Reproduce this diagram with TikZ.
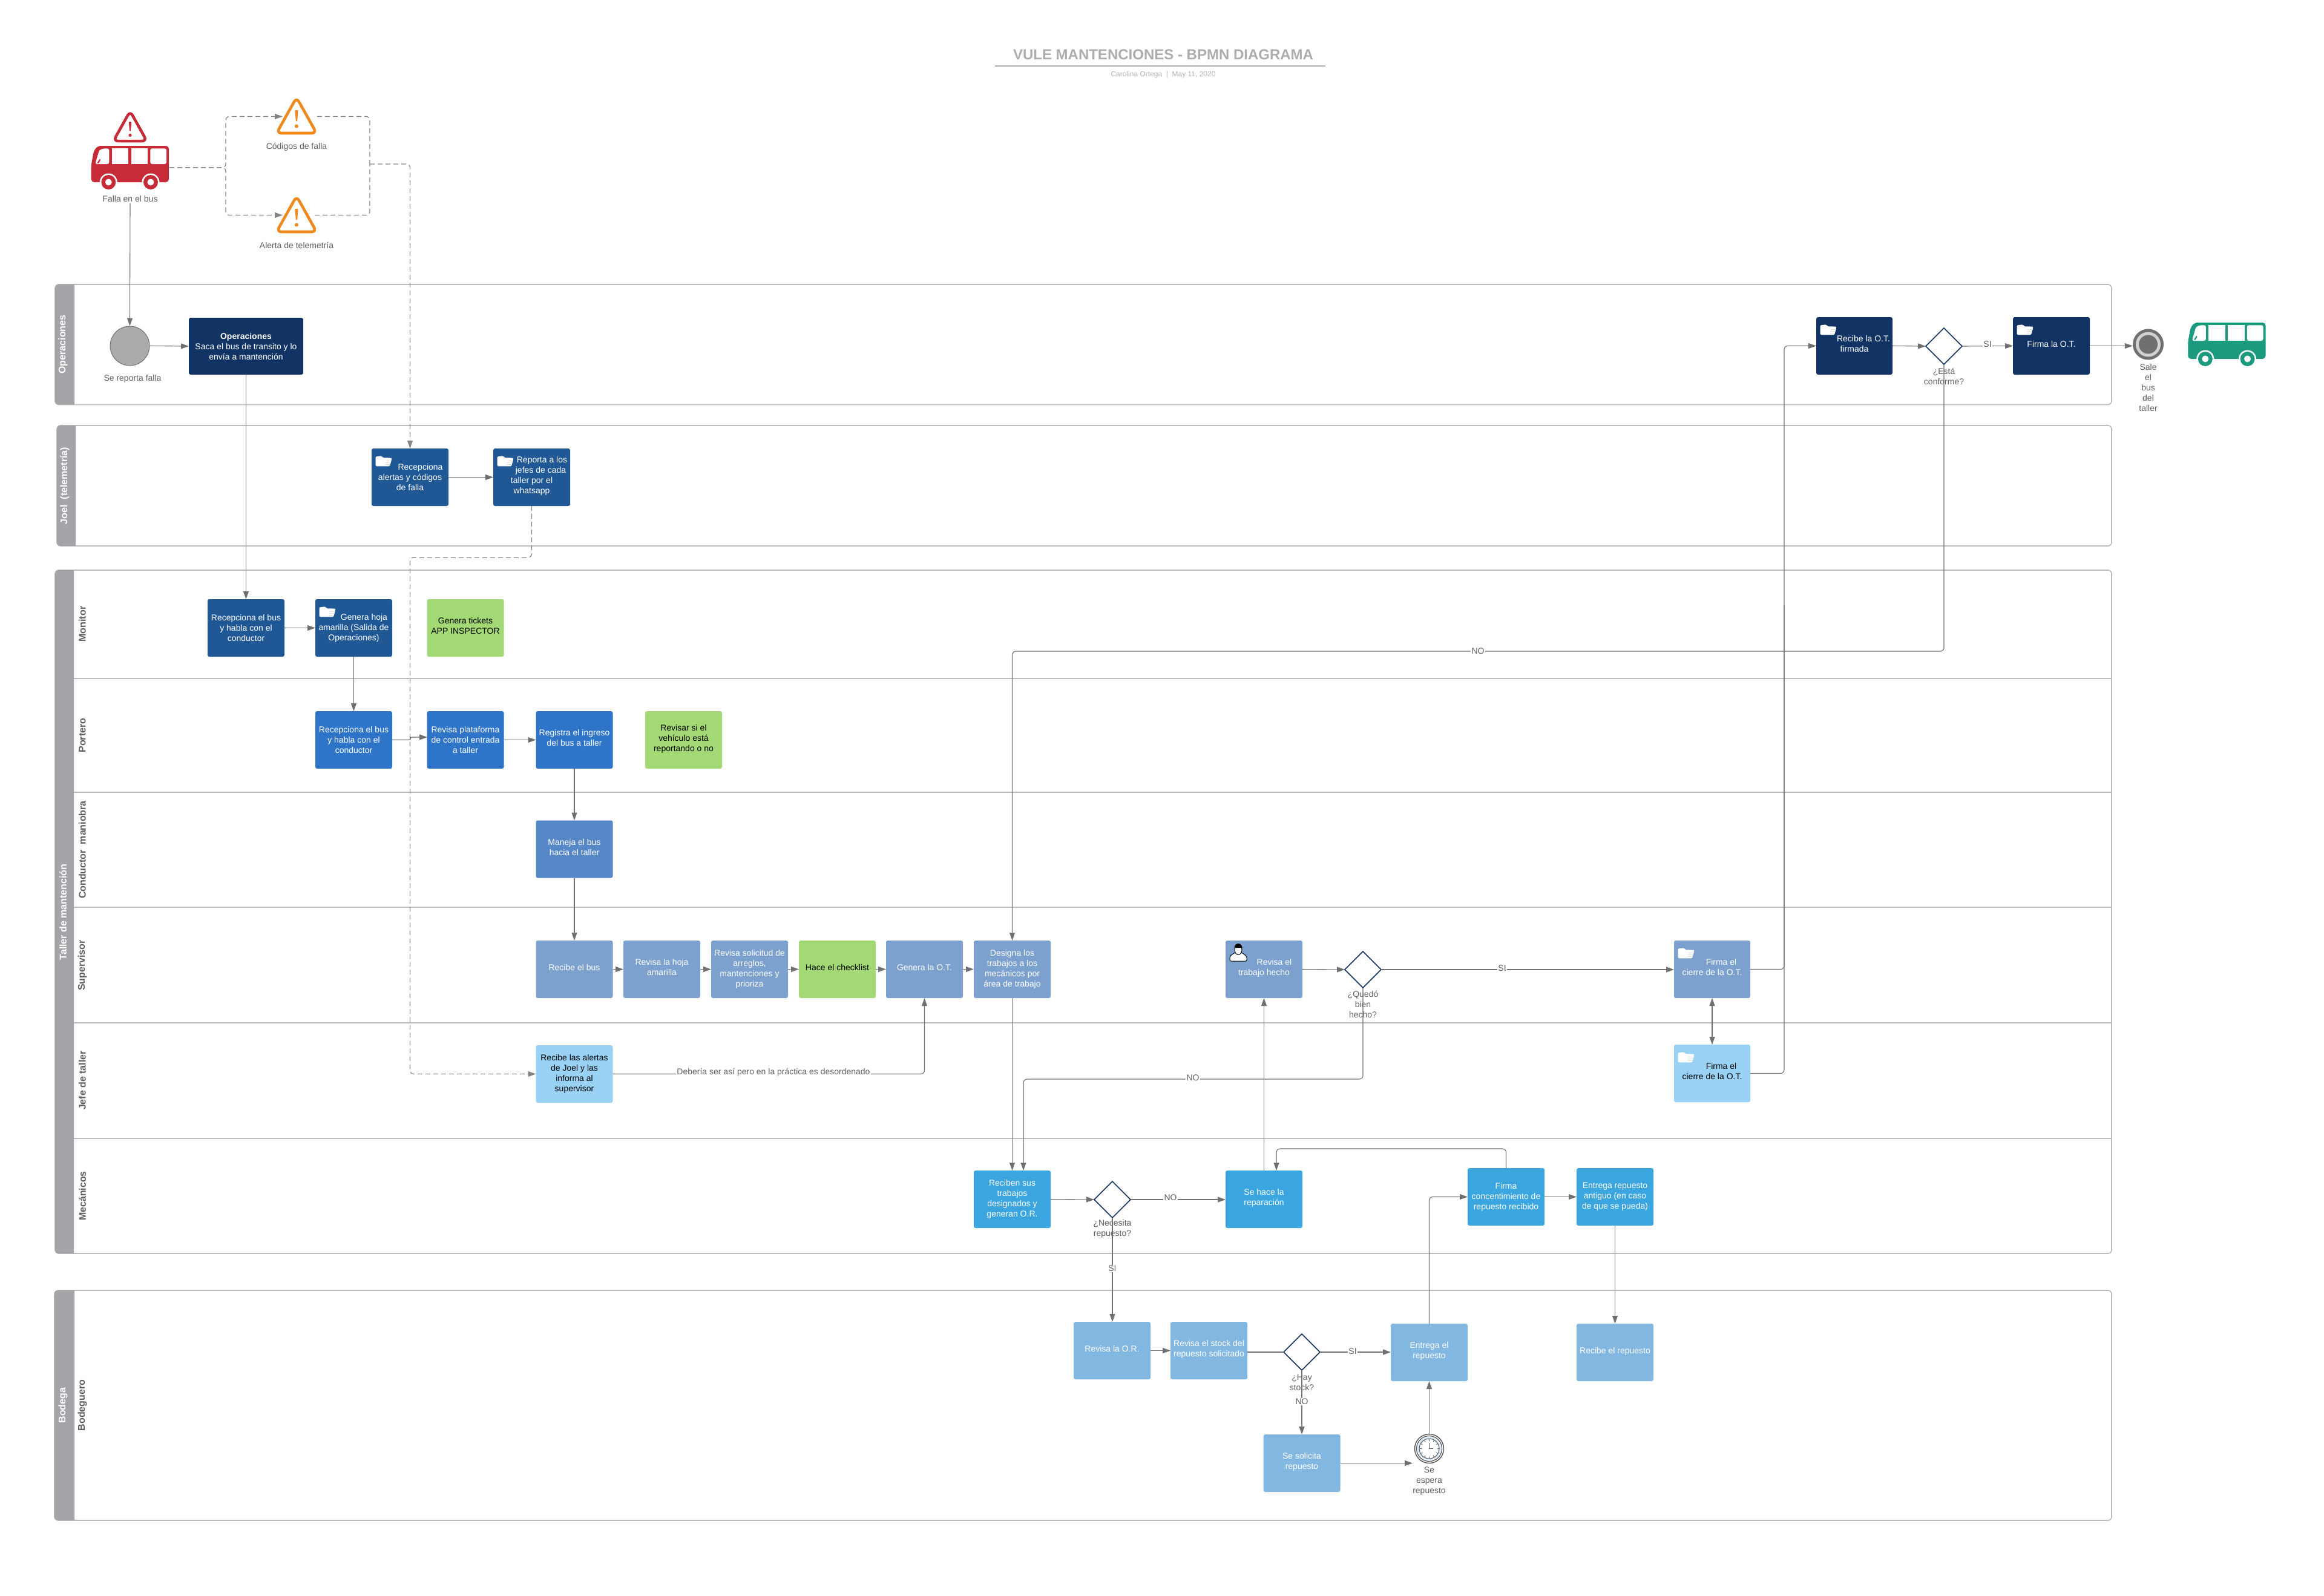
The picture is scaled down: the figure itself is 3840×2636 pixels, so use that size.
\documentclass[tikz,border=0pt]{standalone}
\usepackage{fontspec}
\setmainfont{Liberation Sans}
\usetikzlibrary{arrows.meta,shapes.geometric,calc}
\definecolor{navy}{HTML}{123464}
\definecolor{midblue}{HTML}{205896}
\definecolor{portblue}{HTML}{2E74C8}
\definecolor{condblue}{HTML}{5687C6}
\definecolor{supblue}{HTML}{7CA1CF}
\definecolor{jefeblue}{HTML}{9AD2F5}
\definecolor{mecblue}{HTML}{3AA5DE}
\definecolor{bodblue}{HTML}{82B7E2}
\definecolor{tickgreen}{HTML}{A3D975}
\definecolor{lanehd}{HTML}{A4A5A8}
\definecolor{laneln}{HTML}{BBBBBB}
\definecolor{lnk}{HTML}{707070}
\definecolor{txtg}{HTML}{5F5F5F}
\definecolor{busred}{HTML}{C82B38}
\definecolor{busgreen}{HTML}{1B9A7E}
\definecolor{warnor}{HTML}{F0891D}
\definecolor{dmd}{HTML}{16325F}
\definecolor{clockring}{HTML}{DCEBFA}
\definecolor{clockln}{HTML}{555555}
\newcommand\lup[1]{\raisebox{1.5pt}[\height][\depth]{\begin{tabular}{@{}c@{}}#1\end{tabular}}}
\tikzset{
  x=1pt,y=-1pt,
  basefont/.style={font=\fontsize{14}{17}\selectfont},
  task/.style={rectangle,rounded corners=3pt,inner sep=0pt,outer sep=0pt,minimum width=127pt,minimum height=95pt,align=center,text=white,basefont},
  blk/.style={text=black},
  lane/.style={rectangle,rounded corners=6pt,draw=laneln,line width=1.6pt,fill=white,inner sep=0pt,outer sep=0pt},
  lanetitle/.style={rotate=90,text=white,inner sep=0pt,font=\fontsize{16}{19}\selectfont\bfseries},
  subtitle/.style={rotate=90,text=txtg,inner sep=0pt,font=\fontsize{16}{19}\selectfont\bfseries},
  sepline/.style={draw=laneln,line width=1.4pt},
  lbl/.style={text=txtg,inner sep=0pt,align=center,basefont},
  edgelbl/.style={text=txtg,inner sep=1.5pt,fill=white,basefont},
  flow/.style={draw=lnk,line width=1.1pt,rounded corners=6pt,-{Triangle[length=13pt,width=9pt]}},
  plain/.style={draw=lnk,line width=1.1pt,rounded corners=6pt},
  both/.style={draw=lnk,line width=1.1pt,{Triangle[length=13pt,width=9pt]}-{Triangle[length=13pt,width=9pt]}},
  dashflow/.style={draw=lnk!85,line width=1.2pt,rounded corners=6pt,dash pattern=on 8pt off 5pt,-{Triangle[length=13pt,width=9pt]}},
  dashplain/.style={draw=lnk!85,line width=1.2pt,rounded corners=6pt,dash pattern=on 8pt off 5pt},
  gate/.style={diamond,aspect=1,draw=dmd,line width=1.5pt,fill=white,inner sep=0pt,outer sep=0pt,minimum width=60pt,minimum height=60pt},
  pics/warn/.style={code={
    \draw[#1,line width=4.6pt,rounded corners=8pt,line join=round] (0,-31.5) -- (33,27.5) -- (-33,27.5) -- cycle;
    \fill[#1,rounded corners=1pt] (-2.6,-10.5) -- (2.6,-10.5) -- (1.1,8) -- (-1.1,8) -- cycle;
    \fill[#1] (0,16) circle (3pt);
  }},
  pics/bus/.style={code={
    \fill[#1,rounded corners=5pt] (-53.3,0) -- (64,0) -- (64,60) -- (-64.3,60) -- (-64.3,32) -- (-60,8) -- cycle;
    \fill[white,rounded corners=3pt] (-57.7,30) -- (-51,7) -- (-44,4.3) -- (-34.7,4.3) -- (-34.7,30) -- cycle;
    \draw[#1,line width=2.2pt,line cap=round] (-53,28) -- (-50,23);
    \fill[white] (-30.3,4.3) rectangle (-3,30);
    \fill[white] (1.7,4.3) rectangle (29.3,30);
    \fill[white,rounded corners=3pt] (33.3,4.3) -- (60,4.3) -- (60,30) -- (33.3,30) -- cycle;
    \foreach \wx in {-35.7,34}{
      \fill[white] (\wx,60) circle (14.5pt);
      \fill[#1] (\wx,60) circle (12pt);
      \fill[white] (\wx,60) circle (5.5pt);
    }
  }},
  pics/folder/.style={code={
    \fill[white,rounded corners=1.5pt] (0,1) -- (10,0) -- (12,3) -- (27,3.3) -- (23.5,17) -- (0,17) -- cycle;
    \draw[#1,line width=.6pt] (17,7.5) -- (26,7.5) (16,10.5) -- (25,10.5) (16,13.5) -- (24,13.5);
  }},
  pics/person/.style={code={
    \draw[black,fill=white,line width=1pt,rounded corners=2pt] (-14,29) -- (-14,21) -- (-6,15) -- (6,15) -- (14,21) -- (14,29) -- cycle;
    \draw[black,fill=white,line width=1pt] (0,10) ellipse (6pt and 8.5pt);
    \fill[black] (6.5,7) arc (0:180:6.5pt and 7pt) -- cycle;
  }},
}
\begin{document}
\begin{tikzpicture}
\useasboundingbox (0,0) rectangle (3840,2636);
\fill[white] (0,0) rectangle (3840,2636);

% title
\node[text=black!32,inner sep=0pt,font=\fontsize{24}{28}\selectfont\bfseries] (title) at (1922,90) {VULE MANTENCIONES - BPMN DIAGRAMA};
\coordinate (ula) at (1644,109);
\coordinate (ulb) at (2190,109);
\draw[draw=black!32,line width=1.6pt] (ula) -- (ulb);
\node[text=black!30,inner sep=0pt,font=\fontsize{12}{14}\selectfont] (subt) at (1922,123) {Carolina Ortega~~|~~May 11, 2020};

% lanes
\node[lane,minimum width=3398pt,minimum height=198.5pt] (laneop) at (1790,569.2) {};
\node[lane,minimum width=3395pt,minimum height=199pt] (lanejo) at (1791.5,802.5) {};
\node[lane,minimum width=3398pt,minimum height=1129pt] (lanetm) at (1790,1506.5) {};
\node[lane,minimum width=3399pt,minimum height=380pt] (lanebo) at (1789.5,2322) {};
\fill[lanehd] (123,470) [rounded corners=6pt] -- (91,470) -- (91,668.5) [sharp corners] -- (123,668.5) -- cycle;
\fill[lanehd] (125,703) [rounded corners=6pt] -- (94,703) -- (94,902) [sharp corners] -- (125,902) -- cycle;
\fill[lanehd] (122,942) [rounded corners=6pt] -- (91,942) -- (91,2071) [sharp corners] -- (122,2071) -- cycle;
\fill[lanehd] (123,2132) [rounded corners=6pt] -- (90,2132) -- (90,2512) [sharp corners] -- (123,2512) -- cycle;
\foreach \sy in {1121,1309,1499,1690,1881}{\draw[sepline] (122,\sy) -- (3489,\sy);}
\node[lanetitle] (tlop) at (104,569) {Operaciones};
\node[lanetitle] (tljo) at (107,802.5) {Joel\ \ (telemetría)};
\node[lanetitle] (tltm) at (104,1507) {Taller de mantención};
\node[lanetitle] (tlbo) at (104,2322) {Bodega};
\node[subtitle] (slmo) at (136,1031) {Monitor};
\node[subtitle] (slpo) at (136,1215) {Portero};
\node[subtitle] (slco) at (136,1404) {Conductor\ \ maniobra};
\node[subtitle] (slsu) at (136,1595) {Supervisor};
\node[subtitle] (slje) at (136,1785) {Jefe de taller};
\node[subtitle] (slme) at (136,1976) {Mecánicos};
\node[subtitle] (slbo) at (136,2322) {Bodeguero};

% top icons
\pic[scale=.84] at (215,210) {warn=busred};
\pic at (215,241) {bus=busred};
\node[lbl] (lfalla) at (215,328) {Falla en el bus};
\pic at (490,192.5) {warn=warnor};
\pic at (490,355.5) {warn=warnor};
\node[lbl] (lcod) at (490,243) {Códigos de falla};
\node[lbl] (lale) at (490,405) {Alerta de telemetría};
\pic at (3679.5,533) {bus=busgreen};

% Operaciones
\node[circle,draw=lnk,line width=1pt,fill=black!33,inner sep=0pt,minimum size=65pt] (start) at (214.5,571.5) {};
\node[lbl] (lstart) at (219,626) {Se reporta falla};
\node[task,fill=navy,minimum width=189pt,minimum height=94pt] (op1) at (406.5,572) {\textbf{Operaciones}\\Saca el bus de transito y lo\\envía a mantención};
\node[task,fill=navy,minimum width=126pt] (recot) at (3064,571.5) {\lup{\hspace*{30pt}Recibe la O.T.\\firmada}};
\node[gate] (dconf) at (3212,572) {};
\node[lbl] (lconf) at (3212,622) {¿Está\\conforme?};
\node[task,fill=navy] (firot) at (3389.5,571.5) {\lup{Firma la O.T.}};
\node[circle,fill=lnk,inner sep=0pt,minimum size=51pt] (fin) at (3549.5,569) {};
\fill[black!18] (fin.center) circle (20.5pt);
\fill[lnk] (fin.center) circle (15.5pt);
\node[lbl] (lfin) at (3549.5,640) {Sale\\el\\bus\\del\\taller};

% Joel
\node[task,fill=midblue] (ja) at (677.5,788.5) {\hspace*{34pt}Recepciona\\alertas y códigos\\de falla};
\node[task,fill=midblue] (jb) at (878.5,788.5) {\lup{\hspace*{34pt}Reporta a los\\\hspace*{30pt}jefes de cada\\taller por el\\whatsapp}};

% Monitor
\node[task,fill=midblue] (m1) at (406.5,1037.5) {Recepciona el bus\\y habla con el\\conductor};
\node[task,fill=midblue] (m2) at (584.5,1037.5) {\hspace*{34pt}Genera hoja\\amarilla (Salida de\\Operaciones)};
\node[task,fill=tickgreen,blk] (m3) at (769,1037.5) {\lup{Genera tickets\\APP INSPECTOR}};

% Portero
\node[task,fill=portblue] (p1) at (584.5,1222.5) {Recepciona el bus\\y habla con el\\conductor};
\node[task,fill=portblue] (p2) at (769,1222.5) {Revisa plataforma\\de control entrada\\a taller};
\node[task,fill=portblue] (p3) at (949,1222.5) {\lup{Registra el ingreso\\del bus a taller}};
\node[task,fill=tickgreen,blk] (p4) at (1129.5,1222.5) {\lup{Revisar si el\\vehículo está\\reportando o no}};

% Conductor
\node[task,fill=condblue] (c1) at (949,1403) {\lup{Maneja el bus\\hacia el taller}};

% Supervisor
\node[task,fill=supblue] (s1) at (949,1601.5) {\lup{Recibe el bus}};
\node[task,fill=supblue] (s2) at (1093.5,1601.5) {\lup{Revisa la hoja\\amarilla}};
\node[task,fill=supblue] (s3) at (1238.5,1601.5) {Revisa solicitud de\\arreglos,\\mantenciones y\\prioriza};
\node[task,fill=tickgreen,blk] (s4) at (1383.5,1601.5) {\lup{Hace el checklist}};
\node[task,fill=supblue] (s5) at (1527.5,1601.5) {\lup{Genera la O.T.}};
\node[task,fill=supblue] (s6) at (1672.5,1601.5) {Designa los\\trabajos a los\\mecánicos por\\área de trabajo};
\node[task,fill=supblue] (s7) at (2088.5,1601.5) {\lup{\hspace*{34pt}Revisa el\\trabajo hecho}};
\node[gate] (dbien) at (2252,1602) {};
\node[lbl] (lbien) at (2252,1659.5) {¿Quedó\\bien\\hecho?};
\node[task,fill=supblue,minimum width=126pt] (f1) at (2829,1601.5) {\lup{\hspace*{30pt}Firma el\\cierre de la O.T.}};

% Jefe
\node[task,fill=jefeblue,blk] (j1) at (949,1774.5) {Recibe las alertas\\de Joel y las\\informa al\\supervisor};
\node[task,fill=jefeblue,blk,minimum width=126pt] (f2) at (2829,1773.5) {\lup{\hspace*{30pt}Firma el\\cierre de la O.T.}};

% Mecanicos
\node[task,fill=mecblue] (rec) at (1672.5,1981.5) {Reciben sus\\trabajos\\designados y\\generan O.R.};
\node[gate] (dnec) at (1838,1982) {};
\node[lbl] (lnec) at (1838,2030.5) {¿Necesita\\repuesto?};
\node[task,fill=mecblue] (sh) at (2088.5,1981.5) {\lup{Se hace la\\reparación}};
\node[task,fill=mecblue] (fc) at (2488.5,1977.5) {Firma\\concentimiento de\\repuesto recibido};
\node[task,fill=mecblue] (ea) at (2668.5,1977.5) {Entrega repuesto\\antiguo (en caso\\de que se pueda)};

% Bodega
\node[task,fill=bodblue] (or) at (1837.5,2231.5) {\lup{Revisa la O.R.}};
\node[task,fill=bodblue] (st) at (1997.5,2231.5) {\lup{Revisa el stock del\\repuesto solicitado}};
\node[gate] (dhay) at (2151,2234) {};
\node[lbl] (lhay) at (2151,2284.5) {¿Hay\\stock?};
\node[task,fill=bodblue] (en) at (2361.5,2234.5) {\lup{Entrega el\\repuesto}};
\node[task,fill=bodblue] (rr) at (2668.5,2234.5) {\lup{Recibe el repuesto}};
\node[task,fill=bodblue] (sol) at (2151,2417.5) {\lup{Se solicita\\repuesto}};
\node[circle,draw=clockln,line width=1.4pt,fill=white,inner sep=0pt,minimum size=48pt] (tm) at (2361.5,2393.5) {};
\draw[clockln,line width=1.2pt] (tm.center) circle (21pt);
\fill[clockring] (tm.center) circle (19.5pt);
\draw[clockln,fill=white,line width=1pt] (tm.center) circle (16.5pt);
\foreach \ang in {0,30,...,330}{\draw[clockln,line width=.8pt] ([shift={(\ang:13)}]tm.center) -- ([shift={(\ang:16)}]tm.center);}
\draw[clockln,line width=1.2pt] ([shift={(0,-10)}]tm.center) -- (tm.center) -- ([shift={(6,0)}]tm.center);
\node[lbl] (lesp) at (2361.5,2447.5) {Se\\espera\\repuesto};

% icons on tasks
\foreach \tn in {ja,jb,m2,recot,firot,f1,f2}{\pic at ([shift={(6.6,12.3)}]\tn.north west) {folder=black!12};}
\pic at ([shift={(21,5)}]s7.north west) {person};

% connectors
\coordinate (busout) at (280,277);
\coordinate (fka) at (373,277);
\coordinate (wain) at (467,192.5);
\coordinate (wbin) at (467,355.5);
\coordinate (waout) at (524,192.5);
\coordinate (wbout) at (520,355.5);
\coordinate (fkb) at (611,271);
\coordinate (fallaout) at (215,336);
\draw[dashflow] (busout) -- (fka) |- (wain);
\draw[dashflow] (busout) -- (fka) |- (wbin);
\draw[dashplain] (waout) -| (fkb);
\draw[dashplain] (wbout) -| (fkb);
\draw[dashflow] (fkb) -| (ja.north);
\draw[flow] (fallaout) -- (start.north);
\draw[flow] (start.east) -- (op1.west);
\draw[flow] (op1.south) -- (m1.north);
\draw[flow] (ja.east) -- (jb.west);
\coordinate (jbk) at (677.5,921);
\draw[dashflow] (jb.south) |- (jbk) |- (j1.west);
\draw[flow] (m1.east) -- (m2.west);
\draw[flow] (m2.south) -- (p1.north);
\coordinate (pma) at (678,1222.5);
\coordinate (pmb) at (678,1218);
\coordinate (pmc) at (706,1218);
\draw[flow,rounded corners=3pt] (p1.east) -- (pma) -- (pmb) -- (pmc);
\draw[flow] (p2.east) -- (p3.west);
\draw[flow] (p3.south) -- (c1.north);
\draw[flow] (c1.south) -- (s1.north);
\draw[flow] (s1.east) -- (s2.west);
\draw[flow] (s2.east) -- (s3.west);
\draw[flow] (s3.east) -- (s4.west);
\draw[flow] (s4.east) -- (s5.west);
\draw[flow] (s5.east) -- (s6.west);
\draw[flow] (j1.east) -| (s5.south);
\node[edgelbl] (ldeb) at (1278,1772) {Debería ser así pero en la práctica es desordenado};
\draw[flow] (s6.south) -- (s6.south |- rec.north);
\draw[flow] (rec.east) -- (dnec.west);
\draw[flow] (dnec.east) -- (dnec.east -| sh.west);
\node[edgelbl] (lno1) at (1934,1979) {NO};
\draw[flow] (sh.north) -- (s7.south);
\draw[flow] (s7.east) -- (dbien.west);
\draw[flow] (dbien.east) -- (dbien.east -| f1.west);
\node[edgelbl] (lsi1) at (2482,1600) {SI};
\coordinate (nca) at (1691,1783);
\coordinate (ncb) at (1691,1934);
\draw[flow] (dbien.south) |- (nca) -- (ncb);
\node[edgelbl] (lno2) at (1971,1781) {NO};
\draw[both] (f1.south) -- (f2.north);
\coordinate (vcol) at (2948,1000);
\draw[flow] (f1.east) -| (vcol) |- (recot.west);
\draw[plain] (f2.east) -| (vcol);
\draw[flow] (recot.east) -- (dconf.west);
\draw[flow] (dconf.east) -- (firot.west);
\node[edgelbl] (lsi2) at (3284,569) {SI};
\draw[flow] (firot.east) -- (firot.east -| fin.west);
\coordinate (ncc) at (1672.5,1076);
\draw[flow] (dconf.south) |- (ncc) -- (s6.north);
\node[edgelbl] (lno3) at (2442,1076) {NO};
\coordinate (lpa) at (2109,1898);
\draw[flow] (fc.north) |- (lpa) -- (lpa |- sh.north);
\draw[flow] (fc.east) -- (ea.west);
\draw[flow] (ea.south) -- (ea.south |- rr.north);
\draw[flow] (dnec.south) -- (dnec.south |- or.north);
\node[edgelbl] (lsi3) at (1838,2096) {SI};
\draw[flow] (or.east) -- (st.west);
\draw[plain] (st.east |- dhay.west) -- (dhay.west);
\draw[flow] (dhay.east) -- (dhay.east -| en.west);
\node[edgelbl] (lsi4) at (2235,2233) {SI};
\draw[flow] (dhay.south) -- (dhay.south |- sol.north);
\node[edgelbl] (lno4) at (2151,2316) {NO};
\coordinate (tmin) at (2334,2417.5);
\draw[flow] (sol.east) -- (tmin);
\draw[flow] (tm.north) -- (en.south);
\draw[flow] (en.north) |- (fc.west);
\end{tikzpicture}
\end{document}
